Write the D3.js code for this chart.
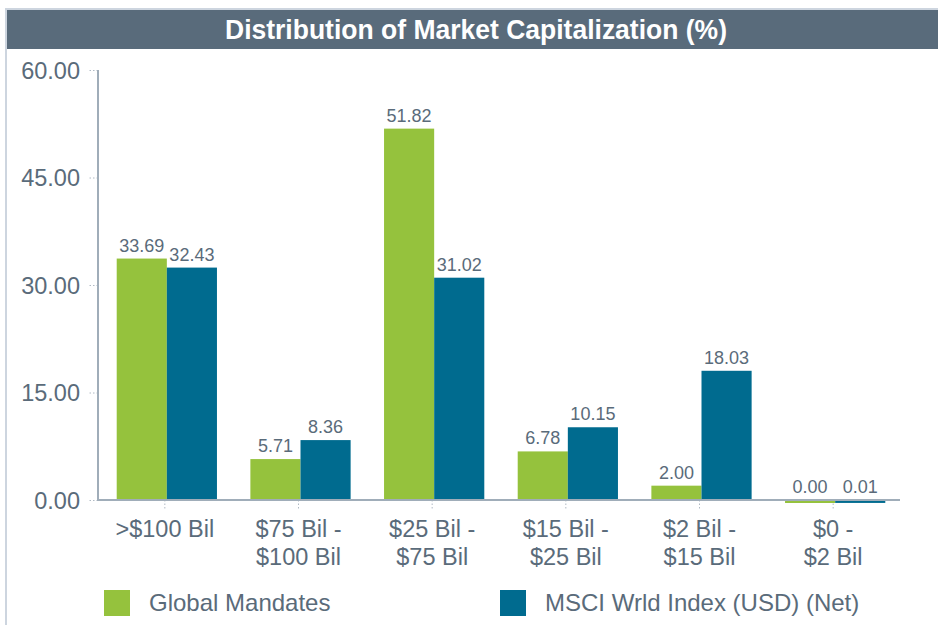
<!DOCTYPE html>
<html>
<head>
<meta charset="utf-8">
<script src="https://cdn.jsdelivr.net/npm/d3@7"></script>
<style>
  body { margin: 0; background: #fff; }
  svg { font-family: "Liberation Sans", Arial, sans-serif; }
</style>
</head>
<body>
<div id="chart"></div>
<script>
// data
var categories = [[">$100 Bil"], ["$75 Bil -", "$100 Bil"], ["$25 Bil -", "$75 Bil"],
                  ["$15 Bil -", "$25 Bil"], ["$2 Bil -", "$15 Bil"], ["$0 -", "$2 Bil"]];
var seriesNames = ["Global Mandates", "MSCI Wrld Index (USD) (Net)"];
var globalMandates = [33.69, 5.71, 51.82, 6.78, 2.00, 0.00];
var msciWorld = [32.43, 8.36, 31.02, 10.15, 18.03, 0.01];
var yTicks = [0, 15, 30, 45, 60];
var colors = ["#95c23d", "#006b8f"];

var width = 938, height = 625;
var textColor = "#5a6b7a";

var svg = d3.select("#chart").append("svg")
    .attr("width", width)
    .attr("height", height);

// frame + title bar
svg.append("rect").attr("x", 5).attr("y", 8).attr("width", width - 5).attr("height", height - 8)
  .attr("fill", "#cdd5df");
svg.append("rect").attr("x", 7).attr("y", 10).attr("width", width - 7).attr("height", height - 10)
  .attr("fill", "#fff");
svg.append("rect").attr("x", 7).attr("y", 10).attr("width", width - 7).attr("height", 39)
  .attr("fill", "#596b7b");
svg.append("text")
  .attr("x", 476).attr("y", 39)
  .attr("text-anchor", "middle")
  .attr("fill", "#fff")
  .attr("textLength", 502)
  .attr("lengthAdjust", "spacingAndGlyphs")
  .style("font-size", "28px")
  .style("font-weight", "bold")
  .text("Distribution of Market Capitalization (%)");

var mLeft = 98, mRight = 900, mTop = 70, mBottom = 500;

var y = d3.scaleLinear().domain([0, 60]).range([mBottom, mTop]);
var x0 = d3.scaleBand().domain(d3.range(categories.length))
  .range([mLeft + 2, mRight + 2]).paddingInner(0.25).paddingOuter(0.125);
var x1 = d3.scaleBand().domain([0, 1]).range([0, x0.bandwidth()]);

// y axis
var yAxis = d3.axisLeft(y).tickValues(yTicks).tickFormat(d3.format(".2f")).tickSize(10).tickPadding(8);
var gy = svg.append("g").attr("transform", "translate(" + mLeft + ",0)").call(yAxis);
gy.select(".domain").remove();
gy.selectAll(".tick line").attr("stroke", "#b0bac4").attr("stroke-dasharray", "1.5,2");
gy.selectAll(".tick text").attr("fill", textColor).style("font-size", "23.5px").attr("dy", "0.36em");

// x axis ticks
var gx = svg.append("g").attr("transform", "translate(-2," + mBottom + ")")
  .call(d3.axisBottom(x0).tickSize(10).tickFormat(""));
gx.select(".domain").remove();
gx.selectAll(".tick line").attr("stroke", "#b0bac4").attr("stroke-dasharray", "1.5,2");

gx.selectAll(".tick").each(function(d) {
  var t = d3.select(this).append("text")
    .attr("fill", textColor)
    .attr("text-anchor", "middle")
    .style("font-size", "23.5px");
  categories[d].forEach(function(line, i) {
    t.append("tspan").attr("x", 0).attr("y", 37 + i * 28).text(line);
  });
});

// bars
var rows = categories.map(function(c, i) { return [globalMandates[i], msciWorld[i]]; });
var groups = svg.selectAll(".grp").data(rows).enter().append("g")
  .attr("transform", function(d, i) { return "translate(" + x0(i) + ",0)"; });

groups.selectAll("rect").data(function(d) { return d; }).enter().append("rect")
  .attr("x", function(d, i) { return x1(i); })
  .attr("width", x1.bandwidth())
  .attr("y", function(d) { return y(d); })
  .attr("height", function(d) { return Math.max(3, y(0) - y(d)); })
  .attr("fill", function(d, i) { return colors[i]; });

groups.selectAll("text").data(function(d) { return d; }).enter().append("text")
  .attr("x", function(d, i) { return x1(i) + x1.bandwidth() / 2; })
  .attr("y", function(d) { return y(d) - 7; })
  .attr("text-anchor", "middle")
  .attr("fill", textColor)
  .style("font-size", "18px")
  .text(function(d) { return d3.format(".2f")(d); });

// axis lines
svg.append("path")
  .attr("d", "M" + mLeft + "," + mTop + "V" + mBottom + "H" + mRight)
  .attr("fill", "none")
  .attr("stroke", "#a0adb9")
  .attr("stroke-width", 2);

// legend
var legendX = [104, 500];
var lg = svg.selectAll(".legend").data(seriesNames).enter().append("g")
  .attr("transform", function(d, i) { return "translate(" + legendX[i] + ",590)"; });
lg.append("rect").attr("width", 26).attr("height", 26)
  .attr("fill", function(d, i) { return colors[i]; });
lg.append("text").attr("x", 45).attr("y", 21)
  .attr("fill", textColor)
  .style("font-size", "24px")
  .text(function(d) { return d; });
</script>
</body>
</html>
